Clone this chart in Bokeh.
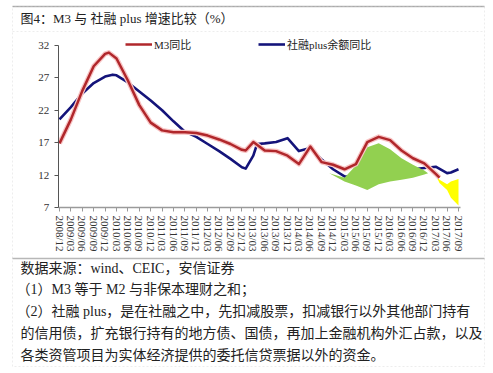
import math
from bokeh.plotting import figure
from bokeh.models import Range1d, FixedTicker, Label, Legend, LegendItem, PolyAnnotation
from bokeh.embed import file_html
from bokeh.resources import INLINE

# ---------------- data ----------------
tick_labels = ["2008/12", "2009/03", "2009/06", "2009/09", "2009/12", "2010/03",
               "2010/06", "2010/09", "2010/12", "2011/03", "2011/06", "2011/09",
               "2011/12", "2012/03", "2012/06", "2012/09", "2012/12", "2013/03",
               "2013/06", "2013/09", "2013/12", "2014/03", "2014/06", "2014/09",
               "2014/12", "2015/03", "2015/06", "2015/09", "2015/12", "2016/03",
               "2016/06", "2016/09", "2016/12", "2017/03", "2017/06", "2017/09"]
y_ticks = [7, 12, 17, 22, 27, 32]

m3_dates = ["2008/12", "2009/03", "2009/06", "2009/09", "2009/12", "2010/01",
            "2010/03", "2010/06", "2010/09", "2010/12", "2011/03", "2011/06",
            "2011/09", "2011/12", "2012/03", "2012/06", "2012/09", "2012/12",
            "2013/01", "2013/03", "2013/06", "2013/09", "2013/12", "2014/03",
            "2014/06", "2014/09", "2014/12", "2015/03", "2015/06", "2015/09",
            "2015/12", "2016/03", "2016/06", "2016/09", "2016/12", "2017/03",
            "2017/04"]
m3_values = [16.9, 20.6, 25.0, 28.8, 30.7, 30.9,
             30.0, 26.6, 22.8, 20.1, 18.9, 18.6,
             18.6, 18.5, 18.1, 17.5, 16.8, 15.9,
             15.8, 17.1, 15.8, 15.7, 15.0, 13.7,
             16.4, 14.0, 13.6, 12.9, 13.7, 17.1,
             17.9, 17.4, 15.8, 14.6, 13.8, 12.2,
             11.6]

sf_dates = ["2008/12", "2009/03", "2009/06", "2009/09", "2009/12", "2010/02",
            "2010/03", "2010/06", "2010/09", "2010/12", "2011/03", "2011/06",
            "2011/09", "2011/12", "2012/03", "2012/06", "2012/09", "2012/12",
            "2013/01", "2013/03", "2013/04", "2013/06", "2013/09", "2013/12",
            "2014/03", "2014/06", "2014/09", "2014/12", "2015/03", "2015/06",
            "2015/09", "2015/12", "2016/03", "2016/06", "2016/09", "2016/12",
            "2017/03", "2017/06", "2017/07", "2017/09"]
sf_values = [20.6, 22.5, 24.6, 26.2, 27.2, 27.5,
             27.4, 26.3, 24.9, 23.5, 22.0, 20.3,
             18.7, 17.9, 16.8, 15.7, 14.5, 13.2,
             13.0, 15.0, 16.8, 16.9, 17.1, 17.7,
             15.7, 16.2, 14.4, 12.9, 11.8, 11.5,
             11.8, 12.2, 12.5, 12.8, 12.9, 13.1,
             13.3, 12.3, 12.4, 12.9]

green_dates = ["2014/11", "2015/03", "2015/06", "2015/09", "2015/12", "2016/03",
               "2016/06", "2016/09", "2016/12", "2017/01"]
green_top = [12.3, 11.6, 13.5, 16.3, 16.9, 16.0, 14.6, 13.6, 12.7, 12.3]
green_bottom = [12.3, 11.0, 10.4, 9.7, 10.6, 11.0, 11.3, 11.6, 12.1, 12.3]

yellow_dates = ["2017/03", "2017/04", "2017/06", "2017/07", "2017/09"]
yellow_top = [12.0, 11.3, 10.6, 11.0, 11.4]
yellow_bottom = [12.0, 10.8, 9.7, 8.5, 7.3]

title_text = "图4：M3  与  社融 plus  增速比较（%）"
note_lines = [
    "数据来源：wind、CEIC，安信证券",
    "（1）M3 等于 M2 与非保本理财之和；",
    "（2）社融 plus，是在社融之中，先扣减股票，扣减银行以外其他部门持有",
    "的信用债，扩充银行持有的地方债、国债，再加上金融机构外汇占款，以及",
    "各类资管项目为实体经济提供的委托信贷票据以外的资金。",
]
legend_labels = ["M3同比", "社融plus余额同比"]


def month_index(s):
    y, m = s.split("/")
    return (int(y) - 2008) * 12 + int(m) - 12


# ---------------- layout ----------------
W, H = 493, 373
X0_PX, X_PX_PER_MONTH = 59.0, 3.8      # pixel of 2008/12, pixels per month
Y32_PX, Y7_PX = 45.0, 207.0            # pixel rows of 32 and 7
y_px_per_unit = (Y7_PX - Y32_PX) / 25.0

x_start = -X0_PX / X_PX_PER_MONTH
x_end = (W - X0_PX) / X_PX_PER_MONTH
y_end = 32 + Y32_PX / y_px_per_unit
y_start = 7 - (H - Y7_PX) / y_px_per_unit


def sx(px):
    return px


def sy(py):
    return H - py


CJK = "Liberation Serif, Noto Sans CJK SC"
SERIF = "Liberation Serif"

p = figure(width=W, height=H, output_backend="svg", toolbar_location=None,
           x_range=Range1d(x_start, x_end), y_range=Range1d(y_start, y_end),
           min_border=0)
p.outline_line_color = None
p.grid.visible = False
p.background_fill_color = "white"
p.border_fill_color = "white"

# axes placed at fixed data locations inside the canvas
xt = [month_index(s) for s in tick_labels]
p.xaxis.fixed_location = 7
p.xaxis.bounds = (-0.3, 105.5)
p.xaxis.ticker = FixedTicker(ticks=xt)
p.xaxis.major_label_overrides = {t: s for t, s in zip(xt, tick_labels)}
p.xaxis.major_label_orientation = -math.pi / 2
p.xaxis.major_label_text_font = SERIF
p.xaxis.major_label_text_font_size = "11px"
p.xaxis.major_label_text_color = "#333333"
p.xaxis.major_label_standoff = 4
p.xaxis.axis_line_color = "#9a9a9a"
p.xaxis.axis_line_width = 1.5
p.xaxis.major_tick_line_color = "#9a9a9a"
p.xaxis.major_tick_out = 4
p.xaxis.major_tick_in = 0
p.xaxis.minor_tick_line_color = None

p.yaxis.fixed_location = -0.3
p.yaxis.bounds = (7, 32)
p.yaxis.ticker = FixedTicker(ticks=y_ticks)
p.yaxis.major_label_text_font = SERIF
p.yaxis.major_label_text_font_size = "11px"
p.yaxis.major_label_text_color = "#333333"
p.yaxis.axis_line_color = "#555555"
p.yaxis.major_tick_line_color = "#555555"
p.yaxis.major_tick_out = 4
p.yaxis.major_tick_in = 0
p.yaxis.minor_tick_line_color = None
p.yaxis.major_label_standoff = 5

# series
m3_x = [month_index(s) for s in m3_dates]
sf_x = [month_index(s) for s in sf_dates]
g_x = [month_index(s) for s in green_dates]
y_x = [month_index(s) for s in yellow_dates]

blue = p.line(sf_x, sf_values, line_color="#14147A", line_width=2.6, line_join="round")
p.varea(x=g_x, y1=green_bottom, y2=green_top, fill_color="#92D050")
p.varea(x=y_x, y1=yellow_bottom, y2=yellow_top, fill_color="#FFFF00")
p.line(m3_x, m3_values, line_color="#F8C4C4", line_width=5, line_join="round")
red = p.line(m3_x, m3_values, line_color="#B0272B", line_width=2.5, line_join="round")

# legends
for rend, lab, left in [(red, legend_labels[0], 125), (blue, legend_labels[1], 258)]:
    lg = Legend(items=[LegendItem(label=lab, renderers=[rend])],
                location=(sx(left), sy(45) - 7), orientation="horizontal",
                padding=0, margin=0, border_line_color=None,
                background_fill_alpha=0, glyph_width=27, glyph_height=14,
                label_height=14, label_standoff=2, label_text_font=CJK,
                label_text_font_size="11px", label_text_color="#222222")
    p.add_layout(lg)

# frame decorations
p.add_layout(PolyAnnotation(xs=[sx(12), sx(484), sx(484), sx(12)],
                            ys=[sy(6), sy(6), sy(366), sy(366)],
                            xs_units="screen", ys_units="screen", fill_color=None,
                            line_color="#c4c4c4", line_dash="2 2", line_width=1))
p.add_layout(PolyAnnotation(xs=[sx(12), sx(484)], ys=[sy(6), sy(6)],
                            xs_units="screen", ys_units="screen", fill_color=None,
                            line_color="#111111", line_width=1.5))
p.add_layout(PolyAnnotation(xs=[sx(12), sx(484)], ys=[sy(31), sy(31)],
                            xs_units="screen", ys_units="screen", fill_color=None,
                            line_color="#c4c4c4", line_dash="2 2", line_width=1))
p.add_layout(PolyAnnotation(xs=[sx(12), sx(484)], ys=[sy(258), sy(258)],
                            xs_units="screen", ys_units="screen", fill_color=None,
                            line_color="#111111", line_width=1.5))

# title
p.add_layout(Label(x=sx(20), y=sy(18), x_units="screen", y_units="screen",
                   text=title_text, text_font=CJK, text_font_size="13px",
                   text_color="#222222", text_baseline="middle"))

# notes
note_x = [20, 16, 16, 20, 20]
note_y = [268, 289, 311, 333, 355]
for t, nx, ny in zip(note_lines, note_x, note_y):
    p.add_layout(Label(x=sx(nx), y=sy(ny), x_units="screen", y_units="screen",
                       text=t, text_font=CJK, text_font_size="14px",
                       text_color="#222222", text_baseline="middle"))

open("out.html", "w").write(file_html(p, INLINE))
